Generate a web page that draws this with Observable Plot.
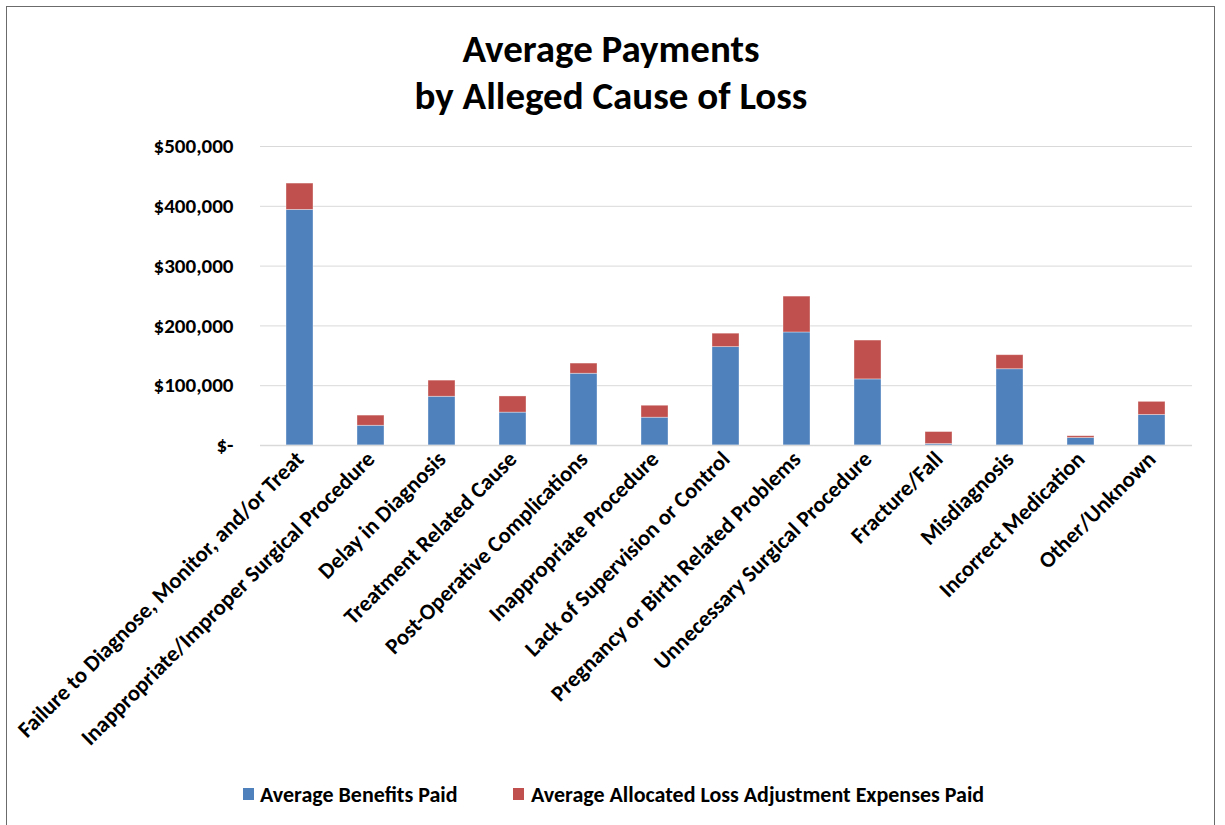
<!DOCTYPE html>
<html>
<head>
<meta charset="utf-8">
<script src="https://cdn.jsdelivr.net/npm/d3@7"></script>
<script src="https://cdn.jsdelivr.net/npm/@observablehq/plot@0.6"></script>
<style>
  html, body { margin: 0; padding: 0; background: white; }
  body { width: 1225px; height: 825px; overflow: hidden; position: relative;
         font-family: Carlito, Calibri, Lato, "Open Sans", sans-serif; }
  #frame { position: absolute; left: 6px; top: 6px; width: 1209px; height: 830px;
           border: 1.5px solid #6b6b6b; box-sizing: border-box; }
  #title { position: absolute; left: 0; top: 25px; width: 1222px; text-align: center;
           font-weight: bold; font-size: 39px; line-height: 47px; color: #000; }
  #chart { position: absolute; left: 0; top: 0; }
  .leg { position: absolute; top: 782px; font-weight: bold; font-size: 22px; color: #000;
         line-height: 26px; white-space: nowrap; }
  .sw { position: absolute; top: 788px; width: 11px; height: 12px; }
</style>
</head>
<body>
<div id="frame"></div>
<div id="title">Average Payments<br>by Alleged Cause of Loss</div>
<div id="chart"></div>
<div id="legend"></div>
<script>
const categories = [
  "Failure to Diagnose, Monitor, and/or Treat",
  "Inappropriate/Improper Surgical Procedure",
  "Delay in Diagnosis",
  "Treatment Related Cause",
  "Post-Operative Complications",
  "Inappropriate Procedure",
  "Lack of Supervision or Control",
  "Pregnancy or Birth Related Problems",
  "Unnecessary Surgical Procedure",
  "Fracture/Fall",
  "Misdiagnosis",
  "Incorrect Medication",
  "Other/Unknown"
];
const seriesNames = ["Average Benefits Paid", "Average Allocated Loss Adjustment Expenses Paid"];
const benefitsPaid = [394000, 33000, 81500, 55000, 120000, 46500, 164500, 189000, 110500, 2500, 127500, 12500, 51000];
const alaePaid =     [44000, 17000, 27000, 27000, 17000, 20000, 22500, 60000, 65000, 20000, 23500, 3000, 22000];
const seriesColors = ["#4F81BD", "#C0504D"];
const yTicks = [0, 100000, 200000, 300000, 400000, 500000];

const data = [];
categories.forEach((c, i) => {
  data.push({cat: c, series: seriesNames[0], value: benefitsPaid[i]});
  data.push({cat: c, series: seriesNames[1], value: alaePaid[i]});
});

const fmt = d3.format(",");
const chart = Plot.plot({
  width: 1225,
  height: 770,
  marginLeft: 260,
  marginRight: 33,
  marginTop: 146,
  marginBottom: 325,
  style: {background: "transparent", fontFamily: "Carlito, Calibri, Lato, 'Open Sans', sans-serif", color: "#000"},
  x: {domain: categories, paddingInner: 0.615, paddingOuter: 0.3075, label: null},
  y: {domain: [0, 500000], label: null},
  color: {domain: seriesNames, range: seriesColors},
  marks: [
    Plot.gridY(yTicks, {stroke: "#d9d9d9", strokeOpacity: 1, strokeWidth: 1}),
    Plot.barY(data, {x: "cat", y: "value", fill: "series", stroke: "#ffffff", strokeOpacity: 0.45, strokeWidth: 0.8}),
    Plot.ruleY([0], {stroke: "#d9d9d9", strokeWidth: 1.6}),
    Plot.axisY(yTicks, {tickSize: 0, tickPadding: 27, fontSize: 21, fontWeight: "bold", label: null,
      tickFormat: d => d === 0 ? "$-" : "$" + fmt(d)}),
    Plot.axisX({tickSize: 0, tickPadding: 10, tickRotate: -45, fontSize: 22.5, fontWeight: "bold", label: null})
  ]
});
document.getElementById("chart").appendChild(chart);

const legend = document.getElementById("legend");
const legX = [[243, 260], [513, 531]];
seriesNames.forEach((s, i) => {
  const sw = document.createElement("div");
  sw.className = "sw";
  sw.style.left = legX[i][0] + "px";
  sw.style.background = seriesColors[i];
  legend.appendChild(sw);
  const t = document.createElement("div");
  t.className = "leg";
  t.style.left = legX[i][1] + "px";
  t.textContent = s;
  legend.appendChild(t);
});
</script>
</body>
</html>
